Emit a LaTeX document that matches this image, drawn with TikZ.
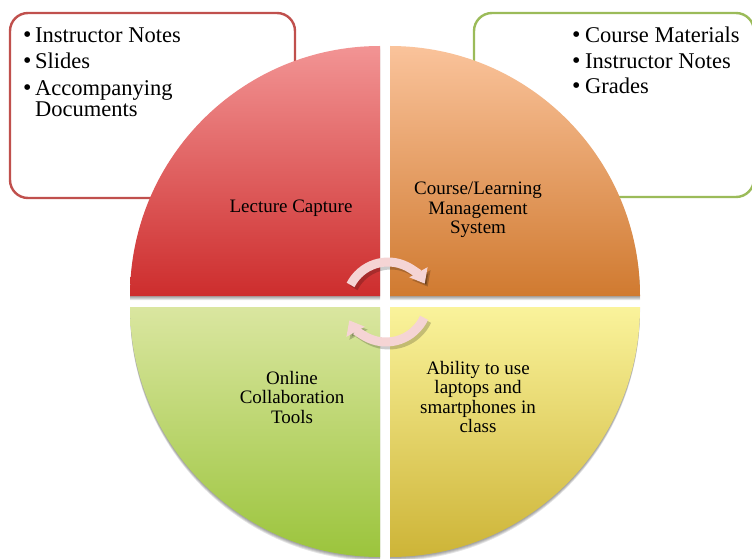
\documentclass[tikz,border=0pt]{standalone}
\usepackage{fontspec}
\setmainfont{Liberation Serif}
\usetikzlibrary{arrows.meta}
\definecolor{redb}{HTML}{C0504D}
\definecolor{greenb}{HTML}{9BBB59}
\definecolor{tlTop}{RGB}{242,148,148}
\definecolor{tlBot}{RGB}{205,45,45}
\definecolor{trTop}{RGB}{250,195,155}
\definecolor{trBot}{RGB}{208,122,48}
\definecolor{blTop}{RGB}{218,230,160}
\definecolor{blBot}{RGB}{155,196,60}
\definecolor{brTop}{RGB}{250,243,155}
\definecolor{brBot}{RGB}{205,180,55}
\definecolor{arrowc}{RGB}{245,212,212}
\tikzset{
  x=1pt,y=1pt,
  listbox/.style={line width=2.4pt,rounded corners=18pt,fill=white},
  itemtxt/.style={anchor=base west,inner sep=0pt,font=\fontsize{22.5}{26}\selectfont},
  bul/.style={anchor=base west,inner sep=0pt,font=\fontsize{24}{26}\selectfont},
  qlabel/.style={align=center,inner sep=0pt,font=\fontsize{19}{19.5}\selectfont},
  qshadow/.style={fill=black,opacity=0.10},
  cyc/.style={draw=arrowc,line width=9pt,-{Triangle[width=20pt,length=13pt]}},
  cycshadow/.style={draw=black,opacity=0.2,line width=9pt,-{Triangle[width=20pt,length=13pt]}}
}
\begin{document}
\begin{tikzpicture}
\useasboundingbox (0,0) rectangle (752,558);
\clip (0,0) rectangle (752,558);
\fill[white] (0,0) rectangle (752,558);
% side boxes
\draw[listbox,draw=redb] (10,360) rectangle (295,545);
\draw[listbox,draw=greenb] (474,361) rectangle (754,545);
% shadows of quadrants
\foreach \s in {1,2,3,4}{
  \fill[qshadow] ([yshift=-\s pt]380,262) -- ([yshift=-\s pt]130,262) arc (180:90:250) -- cycle;
  \fill[qshadow] ([yshift=-\s pt]390,262) -- ([yshift=-\s pt]640,262) arc (0:90:250) -- cycle;
  \fill[qshadow] ([yshift=-\s pt]380,251) -- ([yshift=-\s pt]130,251) arc (180:270:250) -- cycle;
  \fill[qshadow] ([yshift=-\s pt]390,251) -- ([yshift=-\s pt]640,251) arc (0:-90:250) -- cycle;
}
% quadrants
\shade[top color=tlTop,bottom color=tlBot] (380,262) -- (130,262) arc (180:90:250) -- cycle;
\shade[top color=trTop,bottom color=trBot] (390,262) -- (640,262) arc (0:90:250) -- cycle;
\shade[top color=blTop,bottom color=blBot] (380,251) -- (130,251) arc (180:270:250) -- cycle;
\shade[top color=brTop,bottom color=brBot] (390,251) -- (640,251) arc (0:-90:250) -- cycle;
% list texts left
\node[bul] (b1) at (23,515) {•};
\node[itemtxt] (t1) at (35,515) {Instructor Notes};
\node[bul] (b2) at (23,489) {•};
\node[itemtxt] (t2) at (35,489) {Slides};
\node[bul] (b3) at (23,462) {•};
\node[itemtxt] (t3) at (35,462) {Accompanying};
\node[itemtxt] (t4) at (35,441) {Documents};
% list texts right
\node[bul] (b4) at (572,515) {•};
\node[itemtxt] (r1) at (585,515) {Course Materials};
\node[bul] (b5) at (572,489) {•};
\node[itemtxt] (r2) at (585,489) {Instructor Notes};
\node[bul] (b6) at (572,464) {•};
\node[itemtxt] (r3) at (585,464) {Grades};
% quadrant labels
\node[qlabel] (lc) at (291,350) {Lecture Capture};
\node[qlabel] (lms) at (478,348) {Course/Learning\\Management\\System};
\node[qlabel] (oct) at (292,161) {Online\\Collaboration\\Tools};
\node[qlabel] (abl) at (478,161) {Ability to use\\laptops and\\smartphones in\\class};
% cycle arrows
\draw[cycshadow] (391,251) ++(153:42) arc (153:29:42);
\draw[cyc] (388,254) ++(153:42) arc (153:29:42);
\draw[cycshadow] (389,255) ++(-25:42) arc (-25:-151:42);
\draw[cyc] (386,258) ++(-25:42) arc (-25:-151:42);
\end{tikzpicture}
\end{document}
